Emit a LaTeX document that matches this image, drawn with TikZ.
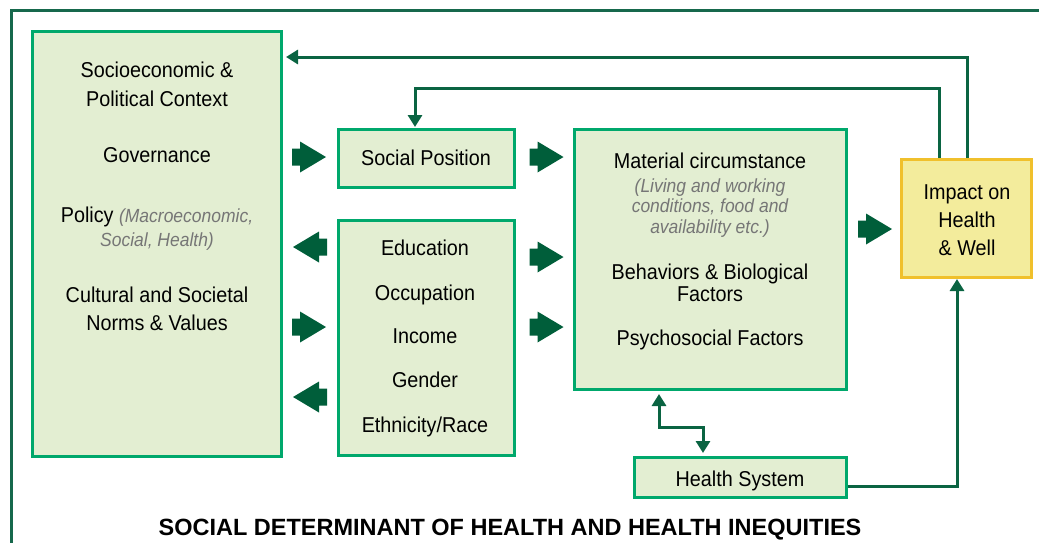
\documentclass[tikz,border=0pt]{standalone}
\usepackage{fontspec}
\setmainfont{Liberation Sans}[FakeStretch=0.92]
\newfontfamily\titlefont{Liberation Sans}
\usetikzlibrary{arrows.meta}
\definecolor{boxgreen}{RGB}{0,168,108}
\definecolor{boxfill}{RGB}{227,238,210}
\definecolor{arrowgreen}{RGB}{0,94,58}
\definecolor{linegreen}{RGB}{10,100,66}
\definecolor{framegreen}{RGB}{22,104,76}
\definecolor{impfill}{RGB}{243,236,156}
\definecolor{impborder}{RGB}{240,192,44}
\definecolor{greytext}{RGB}{118,118,118}
\tikzset{
  box/.style={draw=boxgreen, fill=boxfill, line width=3pt, inner sep=0pt},
  impbox/.style={draw=impborder, fill=impfill, line width=3pt, inner sep=0pt},
  txt/.style={anchor=base, inner sep=0pt, font=\fontsize{21.5}{26}\selectfont},
  sub/.style={anchor=base, inner sep=0pt, text=greytext, font=\fontsize{19}{23}\selectfont\itshape},
  conn/.style={draw=linegreen, line width=3pt},
  tipend/.style={-{Triangle[length=12pt,width=14pt]}},
  fatarrow/.pic={\fill[arrowgreen] (-17,-8.5) -- (-9,-8.5) -- (-9,-15.5) -- (17,0) -- (-9,15.5) -- (-9,8.5) -- (-17,8.5) -- cycle;}
}
\begin{document}
\begin{tikzpicture}[x=1pt,y=-1pt]
\useasboundingbox (0,0) rectangle (1039,542);
% outer frame
\draw[draw=framegreen, line width=3pt] (1050,10) -- (11,10) -- (11,560);
% boxes
\node[box, minimum width=249pt, minimum height=425pt] (ctx) at (157,244) {};
\node[box, minimum width=176pt, minimum height=58pt] (sp) at (426.5,158.5) {};
\node[box, minimum width=176pt, minimum height=235pt] (edu) at (426.5,338) {};
\node[box, minimum width=272pt, minimum height=260pt] (mat) at (710.5,259.5) {};
\node[impbox, minimum width=130pt, minimum height=118pt] (imp) at (966.5,218.5) {};
\node[box, minimum width=212pt, minimum height=40pt] (hs) at (740.5,477.5) {};
% context texts
\node[txt] (c1) at (157,77) {Socioeconomic \&};
\node[txt] (c2) at (157,106) {Political Context};
\node[txt] (c3) at (157,162) {Governance};
\node[txt] (c4) at (157,222) {Policy {\color{greytext}\fontsize{19}{23}\selectfont\itshape (Macroeconomic,}};
\node[sub] (c5) at (157,246) {Social, Health)};
\node[txt] (c6) at (157,302) {Cultural and Societal};
\node[txt] (c7) at (157,330) {Norms \& Values};
% social position
\node[txt] (s1) at (426,165) {Social Position};
% education box
\node[txt] (e1) at (425,255) {Education};
\node[txt] (e2) at (425,300) {Occupation};
\node[txt] (e3) at (425,343) {Income};
\node[txt] (e4) at (425,387) {Gender};
\node[txt] (e5) at (425,432) {Ethnicity/Race};
% material box
\node[txt] (m1) at (710,168) {Material circumstance};
\node[sub] (m2) at (710,192) {(Living and working};
\node[sub] (m3) at (710,212) {conditions, food and};
\node[sub] (m4) at (710,233) {availability etc.)};
\node[txt] (m5) at (710,279) {Behaviors \& Biological};
\node[txt] (m6) at (710,301) {Factors};
\node[txt] (m7) at (710,345) {Psychosocial Factors};
% impact
\node[txt] (i1) at (967,199) {Impact on};
\node[txt] (i2) at (967,227) {Health};
\node[txt] (i3) at (967,255) {\& Well};
% health system
\node[txt] (h1) at (740,486) {Health System};
% title
\node[anchor=base, inner sep=0pt, font=\titlefont\fontsize{23.5}{28}\selectfont\bfseries] (title) at (510,535) {SOCIAL DETERMINANT OF HEALTH AND HEALTH INEQUITIES};
% fat arrows
\pic (a1) at (309,157) {fatarrow};
\pic[rotate=180] (a2) at (310,247) {fatarrow};
\pic (a3) at (309,327) {fatarrow};
\pic[rotate=180] (a4) at (310,397) {fatarrow};
\pic (a5) at (546.5,157) {fatarrow};
\pic (a6) at (546.5,257) {fatarrow};
\pic (a7) at (546.5,327) {fatarrow};
\pic (a8) at (875,229) {fatarrow};
% thin connectors
\coordinate (t1) at (967,57);
\draw[conn, tipend, shorten >=3pt] (imp.north -| t1) -- (t1) -- (ctx.east |- t1);
\coordinate (t2) at (939,88);
\coordinate (t2b) at (415,88);
\draw[conn, tipend, shorten >=1pt] (imp.north -| t2) -- (t2) -- (t2b) -- (sp.north -| t2b);
\coordinate (t3) at (957,486);
\draw[conn, tipend, shorten >=0pt] (hs.east |- t3) -- (t3) -- (imp.south -| t3);
\coordinate (d1) at (659,427);
\coordinate (d2) at (703,427);
\draw[conn, {Triangle[length=12pt,width=14pt]}-{Triangle[length=12pt,width=14pt]}, shorten <=3pt, shorten >=3pt] (mat.south -| d1) -- (d1) -- (d2) -- (hs.north -| d2);
\end{tikzpicture}
\end{document}
